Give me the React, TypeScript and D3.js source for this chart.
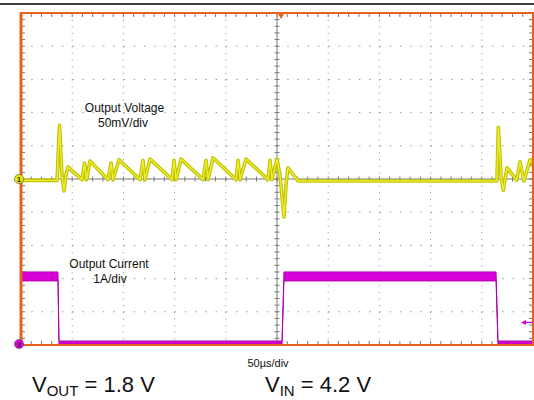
import React, { useEffect, useRef } from "react";
import * as d3 from "d3";

// Channel 1: output voltage, time in µs (50µs/div), value in mV (50mV/div, AC)
const voltageTime = [
  0, 35.2, 37.6, 40.0, 42.0, 43.9, 45.9, 59.6, 62.0, 64.0, 67.4, 85.0, 87.9,
  89.8, 95.7, 116.2, 119.1, 121.1, 126.0, 147.5, 149.4, 151.4, 156.3, 177.7,
  180.7, 182.6, 187.5, 210.0, 211.9, 213.9, 219.7, 241.2, 243.2, 245.1, 250.0,
  252.9, 256.8, 258.8, 260.7, 270.5, 464.8, 466.1, 468.8, 471.0, 474.6, 484.1,
  487.3, 491.2, 497.1, 500,
];
const voltageMv = [
  -2, -2, 81, 6, -18, 6, 18, -1, 24, -1, 27, -1, 24, -1, 29, -1, 28, -1, 30,
  -1, 28, -1, 30, -1, 28, -1, 32, -1, 28, -1, 30, -1, 28, -1, 30, 6, -57, -9,
  17, -3, -3, 78, 5, -17, 17, -2, 26, -3, 29, 22,
];

// Channel 3: output current envelope, value in A (1A/div)
const currentTime = [0, 36.1, 37.1, 254.9, 256.8, 463.9, 465.8, 500];
const currentMax = [2.2, 2.2, 0.12, 0.12, 2.2, 2.2, 0.12, 0.12];
const currentMin = [1.93, 1.93, 0.03, 0.03, 1.93, 1.93, 0.03, 0.03];

const voltageLabel = ["Output Voltage", "50mV/div"];
const currentLabel = ["Output Current", "1A/div"];
const timeLabel = "50µs/div";

const font = "'Liberation Sans', Arial, sans-serif";

const App = () => {
  const chartRef = useRef<SVGSVGElement>(null);

  useEffect(() => {
    const left = 21;
    const right = 533;
    const top = 13;
    const bottom = 345;
    const divs = 10;

    const svg = d3.select(chartRef.current);
    svg.selectAll("*").remove();

    const x = d3.scaleLinear().domain([0, 500]).range([left, right]);
    const yV = d3.scaleLinear().domain([-250, 250]).range([bottom, top]);
    const yI = d3.scaleLinear().domain([0, 10]).range([bottom, top]);

    const divW = (right - left) / divs;
    const divH = (bottom - top) / divs;
    const cx = x(250);
    const cy = yV(0);

    // top rule
    svg
      .append("line")
      .attr("x1", 0)
      .attr("x2", 534)
      .attr("y1", 4)
      .attr("y2", 4)
      .attr("stroke", "#000")
      .attr("stroke-width", 1.5);

    const grid = svg.append("g").attr("stroke", "#9a9a9a");

    // dotted gridlines
    d3.range(1, divs).forEach((i) => {
      if (i === 5) return;
      grid
        .append("line")
        .attr("x1", left + i * divW)
        .attr("x2", left + i * divW)
        .attr("y1", top)
        .attr("y2", bottom)
        .attr("stroke-dasharray", `1.2 ${divH / 5 - 1.2}`);
      grid
        .append("line")
        .attr("y1", top + i * divH)
        .attr("y2", top + i * divH)
        .attr("x1", left)
        .attr("x2", right)
        .attr("stroke-dasharray", `1.5 ${divW / 5 - 1.5}`);
    });

    // center cross with minor ticks
    const axis = svg.append("g").attr("stroke", "#7a7a7a").attr("stroke-width", 1);
    axis.append("line").attr("x1", cx).attr("x2", cx).attr("y1", top).attr("y2", bottom);
    axis.append("line").attr("x1", left).attr("x2", right).attr("y1", cy).attr("y2", cy);
    d3.range(1, divs * 5).forEach((k) => {
      const ty = top + (k * divH) / 5;
      const tx = left + (k * divW) / 5;
      axis.append("line").attr("x1", cx - 2.5).attr("x2", cx + 2.5).attr("y1", ty).attr("y2", ty);
      axis.append("line").attr("x1", tx).attr("x2", tx).attr("y1", cy - 2.5).attr("y2", cy + 2.5);
      // edge ticks
      axis.append("line").attr("x1", left).attr("x2", left + 4).attr("y1", ty).attr("y2", ty);
      axis.append("line").attr("x1", right - 4).attr("x2", right).attr("y1", ty).attr("y2", ty);
      axis.append("line").attr("x1", tx).attr("x2", tx).attr("y1", top).attr("y2", top + 4);
      axis.append("line").attr("x1", tx).attr("x2", tx).attr("y1", bottom - 4).attr("y2", bottom);
    });

    // current trace (envelope)
    const idx = d3.range(currentTime.length);
    const area = d3
      .area<number>()
      .x((i) => x(currentTime[i]))
      .y0((i) => yI(currentMin[i]))
      .y1((i) => yI(currentMax[i]));
    svg
      .append("path")
      .attr("d", area(idx))
      .attr("fill", "#d800d8")
      .attr("stroke", "#b000b0")
      .attr("stroke-width", 1);

    // voltage trace
    const line = d3
      .line<number>()
      .x((i) => x(voltageTime[i]))
      .y((i) => yV(voltageMv[i]));
    const vIdx = d3.range(voltageTime.length);
    svg
      .append("path")
      .attr("d", line(vIdx))
      .attr("fill", "none")
      .attr("stroke", "#c2c200")
      .attr("stroke-width", 3.6)
      .attr("stroke-linejoin", "round");
    svg
      .append("path")
      .attr("d", line(vIdx))
      .attr("fill", "none")
      .attr("stroke", "#ecec30")
      .attr("stroke-width", 1.4)
      .attr("stroke-linejoin", "round");

    // frame
    const orange = "#e8621c";
    svg
      .append("rect")
      .attr("x", left)
      .attr("y", top)
      .attr("width", right - left)
      .attr("height", bottom - top)
      .attr("fill", "none")
      .attr("stroke", orange)
      .attr("stroke-width", 2);
    svg
      .append("line")
      .attr("x1", left)
      .attr("x2", left)
      .attr("y1", top)
      .attr("y2", bottom)
      .attr("stroke", orange)
      .attr("stroke-width", 3);

    // trigger position marker
    const tx = x(254);
    svg
      .append("path")
      .attr("d", `M${tx - 3.5},${top}L${tx + 3.5},${top}L${tx},${top + 6}Z`)
      .attr("fill", orange);

    // trigger level arrow
    const ay = yI(0.68);
    svg
      .append("line")
      .attr("x1", right - 10)
      .attr("x2", right)
      .attr("y1", ay)
      .attr("y2", ay)
      .attr("stroke", "#d400d4")
      .attr("stroke-width", 1.2);
    svg
      .append("path")
      .attr("d", `M${right - 12},${ay}L${right - 7},${ay - 2.5}L${right - 7},${ay + 2.5}Z`)
      .attr("fill", "#d400d4");

    // channel markers
    const marker = (yPos: number, fill: string, label: string) => {
      svg
        .append("circle")
        .attr("cx", 19)
        .attr("cy", yPos)
        .attr("r", 4.6)
        .attr("fill", fill)
        .attr("stroke", "#555")
        .attr("stroke-width", 0.6);
      svg
        .append("text")
        .attr("x", 19)
        .attr("y", yPos + 2.5)
        .attr("text-anchor", "middle")
        .attr("font-family", font)
        .attr("font-size", 7)
        .attr("font-weight", "bold")
        .attr("fill", "#222")
        .text(label);
    };
    marker(cy, "#e8e800", "1");
    marker(bottom - 1, "#e000e0", "3");

    // annotations
    const txt = (t: string, px: number, py: number, size: number) =>
      svg
        .append("text")
        .attr("x", px)
        .attr("y", py)
        .attr("text-anchor", "middle")
        .attr("font-family", font)
        .attr("font-size", size)
        .attr("fill", "#111")
        .text(t);
    txt(voltageLabel[0], 124.5, 112, 12);
    txt(voltageLabel[1], 123, 127, 12);
    txt(currentLabel[0], 109, 268, 12);
    txt(currentLabel[1], 110, 283, 12);
    txt(timeLabel, 268, 367, 11);

    const cond = (px: number, sub: string, rest: string) => {
      const t = svg
        .append("text")
        .attr("x", px)
        .attr("y", 392)
        .attr("font-family", font)
        .attr("font-size", 22)
        .attr("fill", "#111");
      t.append("tspan").text("V");
      t.append("tspan").attr("dy", 3.5).attr("font-size", 15).text(sub);
      t.append("tspan").attr("dy", -3.5).text(rest);
    };
    cond(32, "OUT", " = 1.8 V");
    cond(265, "IN", " = 4.2 V");
  }, []);

  return (
    <svg
      ref={chartRef}
      width={534}
      height={400}
      style={{ position: "absolute", left: 0, top: 0, background: "#fff" }}
    />
  );
};

export default App;
